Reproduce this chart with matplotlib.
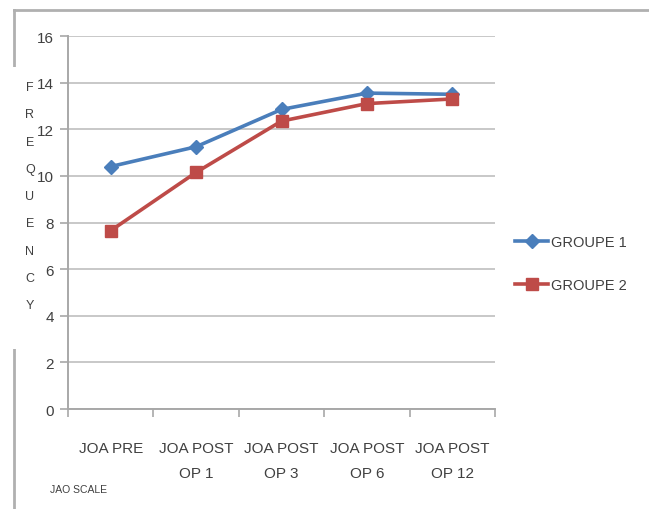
import matplotlib
matplotlib.use("Agg")
import matplotlib.pyplot as plt
from matplotlib.lines import Line2D
from matplotlib.patches import Rectangle

categories = ["JOA PRE", "JOA POST\nOP 1", "JOA POST\nOP 3", "JOA POST\nOP 6", "JOA POST\nOP 12"]
groupe1 = [10.4, 11.25, 12.85, 13.55, 13.5]
groupe2 = [7.65, 10.15, 12.35, 13.1, 13.3]
yticks = [0, 2, 4, 6, 8, 10, 12, 14, 16]
series_names = ["GROUPE 1", "GROUPE 2"]

plt.rcParams['font.family'] = ['Liberation Sans', 'DejaVu Sans']

W, H = 649, 510
fig = plt.figure(figsize=(W / 100, H / 100), dpi=100)
fig.patch.set_facecolor('white')

ax = fig.add_axes([68 / W, 1 - 410 / H, (495 - 68) / W, (410 - 37) / H])
x = list(range(len(categories)))
ax.plot(x, groupe1, color='#4a7ebb', lw=2.6, marker='D', ms=7, label=series_names[0], zorder=3)
ax.plot(x, groupe2, color='#be4b48', lw=2.6, marker='s', ms=9, label=series_names[1], zorder=3)

ax.set_xlim(-0.5, 4.5)
ax.set_ylim(0, 16)
ax.set_yticks(yticks)
ax.set_yticklabels([str(v) for v in yticks], fontsize=11, color='#404040')
ax.yaxis.grid(True, color='#c8c8c8', lw=1.4)
ax.set_axisbelow(True)
for s in ['top', 'right']:
    ax.spines[s].set_visible(False)
for s in ['left', 'bottom']:
    ax.spines[s].set_color('#a8a8a8')
    ax.spines[s].set_linewidth(1.4)
ax.tick_params(axis='y', length=6, color='#a8a8a8', width=1.2, pad=4)
ax.set_xticks([i - 0.5 for i in range(len(categories) + 1)], minor=False)
ax.set_xticklabels([''] * (len(categories) + 1))
ax.tick_params(axis='x', length=6, color='#a8a8a8', width=1.2, direction='out')
ax.set_xticks(x, minor=True)
ax.set_xticklabels(categories, minor=True, fontsize=11, color='#404040', linespacing=2.0)
ax.tick_params(axis='x', which='minor', length=0, pad=23)

# Legend
leg = fig.legend(loc='upper left', bbox_to_anchor=(512 / W, 1 - 233 / H), frameon=False,
                 fontsize=10.5, labelspacing=2.0, handlelength=2.3, handletextpad=0.15,
                 labelcolor='#404040', borderaxespad=0, borderpad=0.2)

# "JAO SCALE" caption
fig.text(50 / W, 1 - 490 / H, "JAO SCALE", fontsize=7.5, color='#404040', va='center', ha='left')

# Chart border (screenshot frame)
fig.add_artist(Line2D([14 / W, 1], [1 - 11 / H, 1 - 11 / H], transform=fig.transFigure, color='#b0b0b0', lw=2))
fig.add_artist(Line2D([14 / W, 14 / W], [1 - 11 / H, 0], transform=fig.transFigure, color='#b0b0b0', lw=2))

# White box with vertical "FREQUENCY"
fig.add_artist(Rectangle((10 / W, 1 - 350 / H), 28 / W, (350 - 68) / H, transform=fig.transFigure,
                         facecolor='white', edgecolor='none', zorder=5))
word = "FREQUENCY"
for i, ch in enumerate(word):
    fig.text(30 / W, 1 - (88 + i * 27.3) / H, ch, fontsize=9, color='#404040',
             ha='center', va='center', zorder=6)

fig.savefig("out.png", dpi=100, facecolor='white')
